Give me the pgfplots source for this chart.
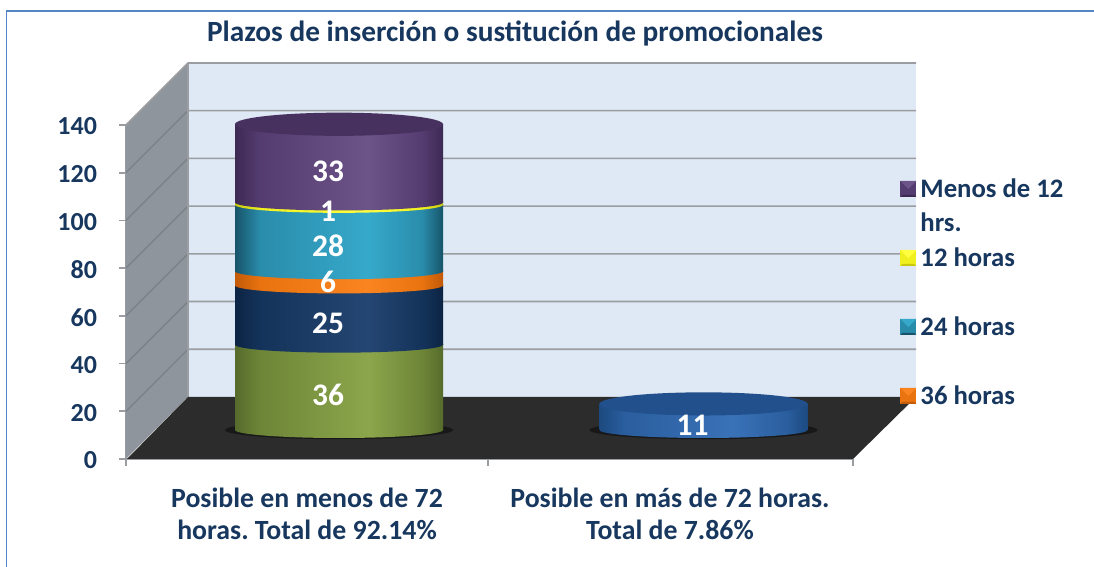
\documentclass[border=0pt]{standalone}
\usepackage{fontspec}
\setmainfont{Carlito}
\usepackage{pgfplots}
\pgfplotsset{compat=1.18}
\usepackage{pgfplotstable}
\definecolor{navytxt}{HTML}{17375E}
\definecolor{wallback}{HTML}{DFE8F5}
\definecolor{wallside}{HTML}{8E959C}
\definecolor{floorc}{HTML}{2C2C2C}
\definecolor{gridc}{HTML}{9A9DA1}
\definecolor{gridd}{HTML}{7C8288}
\definecolor{framec}{HTML}{5585C5}

% name, dark edge, base, highlight, top face
\newcommand{\cylcolor}[5]{%
  \definecolor{#1D}{HTML}{#2}\definecolor{#1B}{HTML}{#3}%
  \definecolor{#1L}{HTML}{#4}\definecolor{#1T}{HTML}{#5}%
  \pgfdeclarehorizontalshading{#1}{100bp}{color(0bp)=(#1D); color(25bp)=(#1D);
    color(31bp)=(#1B); color(57bp)=(#1L); color(70bp)=(#1B); color(75bp)=(#1D); color(100bp)=(#1D)}%
  \pgfdeclareplotmark{#1base}{\path[draw=none,shade,shading=#1] (-52pt,0.5pt) -- (-52pt,0pt)
    arc[start angle=180,end angle=360,x radius=52pt,y radius=4pt] -- (52pt,0.5pt) -- cycle;}%
  \pgfdeclareplotmark{#1cap}{\fill[draw=none,#1T] (0,0) ellipse [x radius=52pt,y radius=5.8pt];}%
  \pgfdeclareplotmark{#1cube}{%
    \fill[draw=none,#1B] (-4pt,-2.3pt) rectangle (4pt,5.7pt);
    \fill[draw=none,#1L] (-4pt,5.7pt) -- (4pt,5.7pt) -- (0pt,1.7pt) -- cycle;
    \fill[draw=none,#1D] (-4pt,-2.3pt) -- (4pt,-2.3pt) -- (3pt,-1.3pt) -- (-3pt,-1.3pt) -- cycle;}%
}
\cylcolor{olive}{566B2C}{6D8537}{8CA64C}{7A9440}
\cylcolor{navy}{0C2444}{14335A}{244672}{14335A}
\cylcolor{orng}{C25A08}{E8730F}{FA8420}{E8730F}
\cylcolor{teal}{175469}{2A8CAB}{36A9CB}{2A8CAB}
\cylcolor{yell}{C8C810}{F0F020}{FFFF40}{F0F020}
\cylcolor{purp}{3D2A53}{543C70}{6C5388}{47325F}
\cylcolor{blue}{1C4A80}{2A5E9E}{3A72B8}{22508C}
\pgfdeclareplotmark{shadow}{\fill[draw=none,black!45!floorc] (0,0) ellipse [x radius=57pt,y radius=4.6pt];}

\pgfplotsset{
  seg/.style={forget plot,ybar,stack plots=y,bar shift=0pt,bar width=104pt,draw=none,shade,shading=#1},
  bulge/.style={forget plot,stack plots=false,only marks,mark=#1},
  cylaxis/.style={
    at={(0pt,68.5pt)}, anchor=south west,
    scale only axis, width=547pt, height=165.9pt,
    xmin=0, xmax=1094, ymin=0, ymax=140,
    hide axis, clip=false},
}

\pgfplotstableread{
x   y     lab
339 18.0  36
339 48.5  25
339 65.7  6
339 81.0  28
339 95.5  1
339 112.5 33
703.5 5.5 11
}\labeltable

\begin{document}
\frenchspacing
\begin{tikzpicture}
  \useasboundingbox (0,0) rectangle (547pt,283.5pt);
  \draw[framec,line width=0.9pt] (3.2pt,0) -- (3.2pt,278pt) -- (547pt,278pt);

  % frame of the chart: walls, floor and ticks, x in picture pixels
  \begin{axis}[
    at={(63pt,54pt)}, anchor=south west,
    scale only axis, width=363.5pt, height=167pt,
    xmin=126, xmax=853, ymin=0, ymax=140,
    clip=false,
    axis lines=left, axis line style={gridc,line width=0.8pt,-},
    xtick={307,670},
    xticklabels={{Posible en menos de 72\\horas. Total de 92.14\%},{Posible en más de 72 horas.\\Total de 7.86\%}},
    minor xtick={126,488,853},
    major x tick style={draw=none},
    minor x tick style={gridc,line width=0.8pt},
    minor tick length=3.5pt,
    ytick={0,20,...,140},
    y tick style={gridc,line width=0.8pt},
    major tick length=3.5pt,
    tick align=outside,
    xticklabel style={align=center,font=\fontsize{13.9}{16}\selectfont\bfseries,text=navytxt,yshift=-7.5pt},
    yticklabel style={font=\fontsize{13}{15}\selectfont\bfseries,text=navytxt,xshift=-7.5pt,yshift=-0.7pt},
    /pgf/number format/assume math mode=true,
    title={Plazos de inserción o sustitución de promocionales},
    title style={at={(axis description cs:0.535,1.2395)},anchor=center,
      font=\fontsize{14.66}{17}\selectfont\bfseries,text=navytxt},
  ]
    \addplot[forget plot,fill=wallback,draw=none] coordinates {(188,26)(916,26)(916,166)(188,166)} --cycle;
    \addplot[forget plot,fill=wallside,draw=none] coordinates {(126,0)(188,26)(188,166)(126,140)} --cycle;
    \addplot[forget plot,gridd,line width=0.7pt,unbounded coords=jump] coordinates {
      (126,20)(188,46)(nan,nan)
      (126,40)(188,66)(nan,nan)
      (126,60)(188,86)(nan,nan)
      (126,80)(188,106)(nan,nan)
      (126,100)(188,126)(nan,nan)
      (126,120)(188,146)(nan,nan)
    };
    \addplot[forget plot,gridc,line width=0.8pt,unbounded coords=jump] coordinates {
      (188,46)(916,46)(nan,nan)
      (188,66)(916,66)(nan,nan)
      (188,86)(916,86)(nan,nan)
      (188,106)(916,106)(nan,nan)
      (188,126)(916,126)(nan,nan)
      (188,146)(916,146)(nan,nan)
      (126,140)(188,166)(916,166)(nan,nan)
      (188,26)(188,166)
    };
    \addplot[forget plot,fill=floorc,draw=none] coordinates {(127,0)(853,0)(916,26)(188,26)} --cycle;
  \end{axis}

  % soft shadows on the floor, below the cylinders
  \begin{axis}[cylaxis]
    \addplot[forget plot,only marks,mark=shadow] coordinates {(339,0)(703.5,0)};
  \end{axis}

  % cylinders: x in picture pixels, y=0 on the floor under the bars
  \begin{axis}[
    cylaxis,
    legend cell align=left,
    legend style={at={(axis cs:891,107.7)},anchor=north west,draw=none,fill=none,inner sep=0pt,
      row sep=0pt,
      /tikz/every odd column/.append style={column sep=2pt},
      font=\fontsize{13.35}{15}\selectfont\bfseries,text=navytxt,
      nodes={text height=11pt,text depth=6.25pt,inner ysep=0pt,inner xsep=0pt}},
  ]
    \addplot[bulge=olivebase] coordinates {(339,0)};
    \addplot[seg=olive] coordinates {(339,36)};
    \addplot[bulge=navybase] coordinates {(339,36)};
    \addplot[seg=navy] coordinates {(339,25)};
    \addplot[bulge=orngbase] coordinates {(339,61)};
    \addplot[seg=orng] coordinates {(339,6)};
    \addplot[bulge=tealbase] coordinates {(339,67)};
    \addplot[seg=teal] coordinates {(339,28)};
    \addplot[bulge=yellbase] coordinates {(339,95)};
    \addplot[seg=yell] coordinates {(339,1)};
    \addplot[bulge=purpbase] coordinates {(339,96)};
    \addplot[seg=purp] coordinates {(339,33)};
    \addplot[bulge=purpcap] coordinates {(339,129)};

    \addplot[bulge=bluebase] coordinates {(703.5,0)};
    \addplot[forget plot,ybar,stack plots=false,bar shift=0pt,bar width=104pt,draw=none,shade,shading=blue] coordinates {(703.5,11)};
    \addplot[bulge=bluecap] coordinates {(703.5,11)};

    \addplot[forget plot,stack plots=false,draw=none,mark=none,
      nodes near coords,point meta=explicit symbolic,
      nodes near coords style={anchor=center,text=white,xshift=-5.5pt,yshift=-4pt,
        font=\fontsize{15.7}{17}\selectfont\bfseries}]
      table[x=x,y=y,meta=lab] {\labeltable};

    \addlegendimage{only marks,mark=purpcube}
    \addlegendentry{Menos de 12}
    \addlegendimage{empty legend}
    \addlegendentry{hrs.}
    \addlegendimage{only marks,mark=yellcube}
    \addlegendentry{12 horas}
    \addlegendimage{empty legend}
    \addlegendentry{}
    \addlegendimage{only marks,mark=tealcube}
    \addlegendentry{24 horas}
    \addlegendimage{empty legend}
    \addlegendentry{}
    \addlegendimage{only marks,mark=orngcube}
    \addlegendentry{36 horas}
  \end{axis}
\end{tikzpicture}
\end{document}
